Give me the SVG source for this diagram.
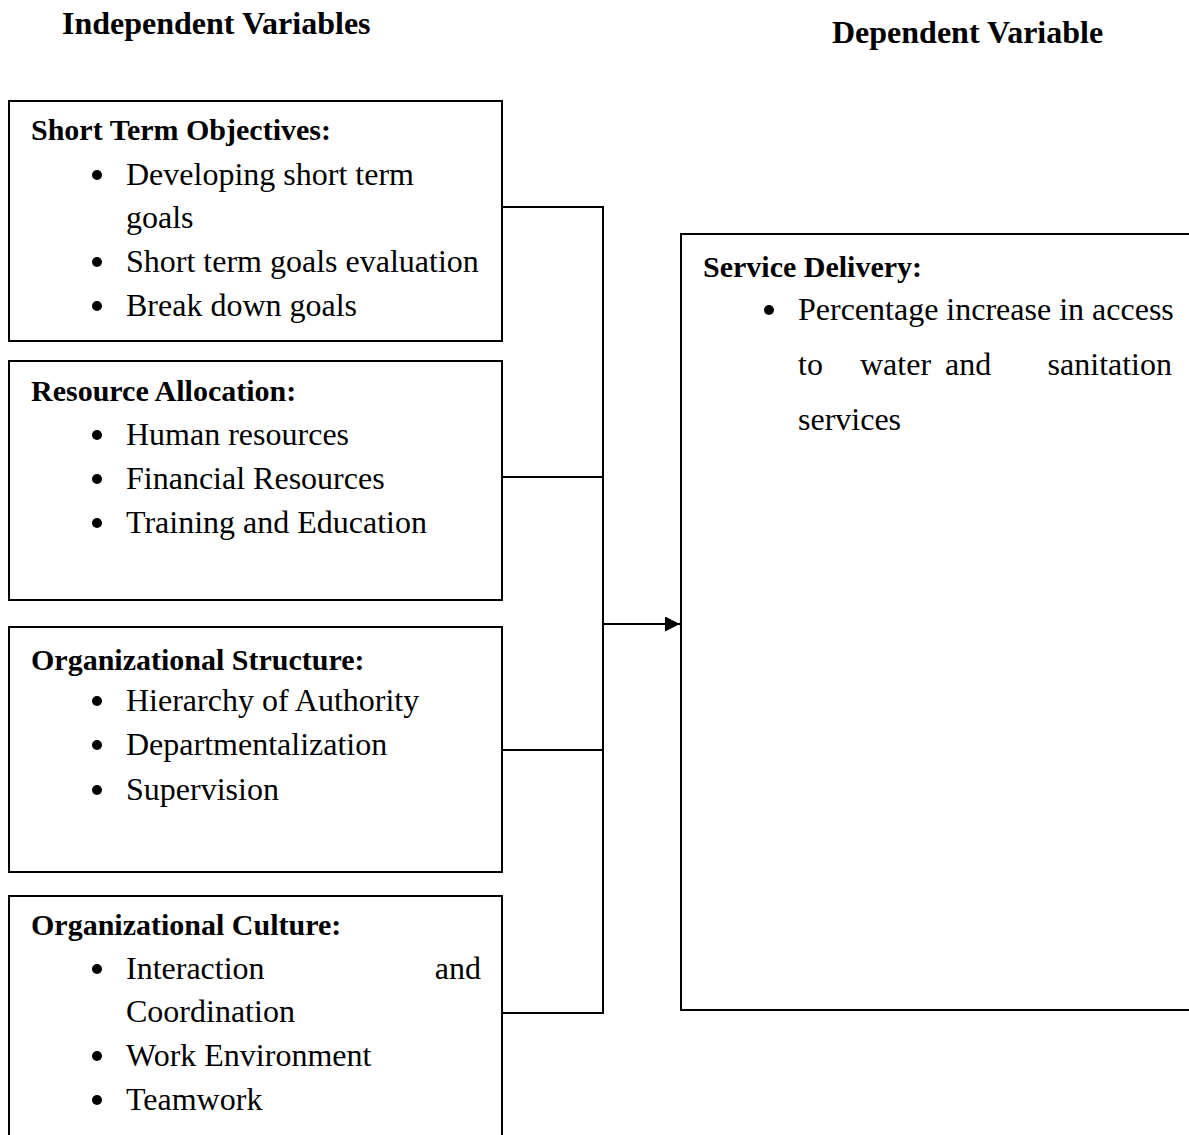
<svg xmlns="http://www.w3.org/2000/svg" width="1189" height="1135" viewBox="0 0 1189 1135">
<style>
text{font-family:"Liberation Serif","Times New Roman",serif;fill:#000}
.h{font-weight:bold;font-size:30px}
.t{font-size:32px}
.hd{font-weight:bold;font-size:32px}
.box{fill:#fff;stroke:#000;stroke-width:2}
.ln{fill:none;stroke:#000;stroke-width:2}
.b{fill:#000}
</style>
<defs>
<marker id="arr" viewBox="0 0 10 10" refX="10" refY="5" markerWidth="15" markerHeight="15" markerUnits="userSpaceOnUse" orient="auto">
<path d="M0,0 L10,5 L0,10 z" fill="#000"/>
</marker>
</defs>
<rect width="1189" height="1135" fill="#fff"/>
<text class="hd" x="62" y="34">Independent Variables</text>
<text class="hd" x="832" y="43">Dependent Variable</text>
<g id="connectors">
<path class="ln" d="M502,207 H603 V1013 H502"/>
<path class="ln" d="M502,477 H603"/>
<path class="ln" d="M502,750 H603"/>
<path class="ln" d="M603,624 H680" marker-end="url(#arr)"/>
</g>
<g id="short-term">
<rect class="box" x="9" y="101" width="493" height="240"/>
<text class="h" x="31" y="140">Short Term Objectives:</text>
<circle class="b" cx="97" cy="175" r="5"/>
<text class="t" x="126" y="185">Developing short term</text>
<text class="t" x="126" y="228">goals</text>
<circle class="b" cx="97" cy="262" r="5"/>
<text class="t" x="126" y="272">Short term goals evaluation</text>
<circle class="b" cx="97" cy="306" r="5"/>
<text class="t" x="126" y="316">Break down goals</text>
</g>
<g id="resource">
<rect class="box" x="9" y="361" width="493" height="239"/>
<text class="h" x="31" y="401">Resource Allocation:</text>
<circle class="b" cx="97" cy="435" r="5"/>
<text class="t" x="126" y="445">Human resources</text>
<circle class="b" cx="97" cy="479" r="5"/>
<text class="t" x="126" y="489">Financial Resources</text>
<circle class="b" cx="97" cy="523" r="5"/>
<text class="t" x="126" y="533">Training and Education</text>
</g>
<g id="structure">
<rect class="box" x="9" y="627" width="493" height="245"/>
<text class="h" x="31" y="670">Organizational Structure:</text>
<circle class="b" cx="97" cy="701" r="5"/>
<text class="t" x="126" y="711">Hierarchy of Authority</text>
<circle class="b" cx="97" cy="745" r="5"/>
<text class="t" x="126" y="755">Departmentalization</text>
<circle class="b" cx="97" cy="790" r="5"/>
<text class="t" x="126" y="800">Supervision</text>
</g>
<g id="culture">
<rect class="box" x="9" y="896" width="493" height="260"/>
<text class="h" x="31" y="935">Organizational Culture:</text>
<circle class="b" cx="97" cy="969" r="5"/>
<text class="t" x="126" y="979">Interaction</text>
<text class="t" x="481" y="979" text-anchor="end">and</text>
<text class="t" x="126" y="1022">Coordination</text>
<circle class="b" cx="97" cy="1056" r="5"/>
<text class="t" x="126" y="1066">Work Environment</text>
<circle class="b" cx="97" cy="1100" r="5"/>
<text class="t" x="126" y="1110">Teamwork</text>
</g>
<g id="service">
<rect class="box" x="681" y="234" width="520" height="776"/>
<text class="h" x="703" y="277">Service Delivery:</text>
<circle class="b" cx="769" cy="310" r="5"/>
<text class="t" x="798" y="320">Percentage increase in access</text>
<text class="t" x="798" y="375">to</text>
<text class="t" x="860" y="375">water</text>
<text class="t" x="945" y="375">and</text>
<text class="t" x="1172" y="375" text-anchor="end">sanitation</text>
<text class="t" x="798" y="430">services</text>
</g>
</svg>
